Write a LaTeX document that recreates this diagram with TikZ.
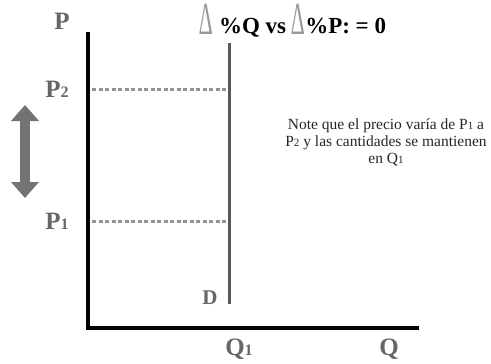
\documentclass[tikz,border=0pt]{standalone}
\usepackage{fontspec}
\setmainfont{Liberation Serif}
\usetikzlibrary{arrows.meta,positioning}
\newcommand{\sub}[1]{{\fontsize{16}{16}\selectfont #1}}
\newcommand{\nsub}[1]{{\fontsize{11}{11}\selectfont #1}}
\newcommand{\dlt}{\textcolor{gray!80}{\textmd{\raisebox{-1pt}{\scalebox{0.95}[2.0]{∆}}}}}

\begin{document}
\begin{tikzpicture}[x=1pt,y=-1pt,
  lbl/.style={font=\fontsize{25}{25}\selectfont\bfseries,text=black!60,inner sep=0pt},
  axis/.style={line width=4.5pt,black},
  curve/.style={line width=3pt,black!65},
  guide/.style={line width=3pt,black!42,dash pattern=on 4pt off 2.5pt},
  pricemove/.style={{Triangle[width=27pt,length=16pt]}-{Triangle[width=27pt,length=16pt]},line width=10pt,black!55}]
  \useasboundingbox (0,0) rectangle (491,364);
  % axes
  \coordinate (ytop) at (88,32);
  \coordinate (o) at (88,328);
  \coordinate (xend) at (419,328);
  \draw[axis] (ytop) -- (o) -- (xend);
  % demand
  \coordinate (dtop) at (229,43);
  \coordinate (dbot) at (229,304);
  \draw[curve] (dtop) -- (dbot);
  % price levels
  \coordinate (p2a) at (92,89); \coordinate (p2b) at (227,89);
  \coordinate (p1a) at (92,221); \coordinate (p1b) at (227,221);
  \draw[guide] (p2a) -- (p2b);
  \draw[guide] (p1a) -- (p1b);
  \coordinate (up) at (25,105); \coordinate (dn) at (25,198);
  \draw[pricemove] (up) -- (dn);
  % labels
  \node[lbl] (p) at (62,21) {P};
  \node[lbl] (p2) at (57,89) {P\sub{2}};
  \node[lbl] (p1) at (57,221) {P\sub{1}};
  \node[lbl,font=\fontsize{21}{21}\selectfont\bfseries] (d) at (210,298) {D};
  \node[lbl] (q1) at (239,349) {Q\sub{1}};
  \node[lbl] (q) at (389,349) {Q};
  \node[font=\fontsize{23}{23}\selectfont\bfseries,inner sep=0pt] (ttl) at (293,21)
    {\dlt\ \%Q vs \dlt\%P: = 0};
  \node[font=\fontsize{15.5}{17}\selectfont,align=center,inner sep=0pt,text=black!85] (note) at (386,142)
    {Note que el precio varía de P\nsub{1} a\\
     P\nsub{2} y las cantidades se mantienen\\
     en Q\nsub{1}};
\end{tikzpicture}
\end{document}
